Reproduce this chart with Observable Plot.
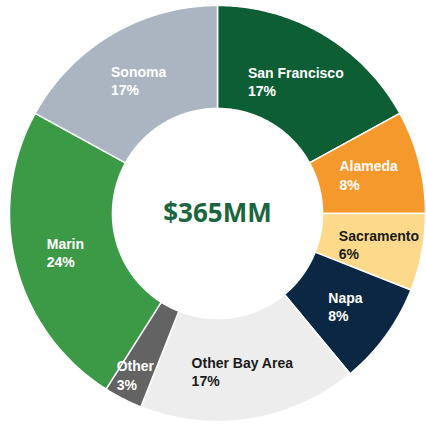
<!DOCTYPE html>
<html>
<head>
<meta charset="utf-8">
<script src="https://cdn.jsdelivr.net/npm/d3@7"></script>
<script src="https://cdn.jsdelivr.net/npm/@observablehq/plot@0.6"></script>
<style>
  html, body { margin: 0; padding: 0; background: #ffffff; }
  #chart svg { display: block; }
</style>
</head>
<body>
<div id="chart"></div>
<script>
// ---- data ----
const categories = ["San Francisco", "Alameda", "Sacramento", "Napa", "Other Bay Area", "Other", "Marin", "Sonoma"];
const shares = [17, 8, 6, 8, 17, 3, 24, 17];
const totalLabel = "$365MM";

// ---- styles / layout ----
const palette = ["#0d5e34", "#f6992c", "#fdd98b", "#0c2744", "#ededed", "#636363", "#3c9a47", "#aab5c1"];
const darkLabel = ["Sacramento", "Other Bay Area"];
const labelRadius = [0.74, 0.75, 0.79, 0.76, 0.77, 0.87, 0.755, 0.745];
const W = 426, H = 424, CX = 217, CY = 213, R = 208, INNER = 0.505;
const labelFont = "bold 14px 'Liberation Sans', Arial, sans-serif";

// ---- derived geometry ----
const arcs = d3.pie().sort(null).value(d => d)(shares);
const points = [];
arcs.forEach((a, i) => {
  const n = Math.max(2, Math.ceil((a.endAngle - a.startAngle) / 0.01));
  const ring = [];
  for (let k = 0; k <= n; k++) {
    const t = a.startAngle + (a.endAngle - a.startAngle) * k / n;
    ring.push({name: categories[i], x: Math.sin(t), y: Math.cos(t)});
  }
  for (let k = n; k >= 0; k--) {
    const t = a.startAngle + (a.endAngle - a.startAngle) * k / n;
    ring.push({name: categories[i], x: INNER * Math.sin(t), y: INNER * Math.cos(t)});
  }
  ring.push(ring[0]);
  points.push(...ring);
});

const ctx = document.createElement("canvas").getContext("2d");
ctx.font = labelFont;
const labels = arcs.map((a, i) => {
  const mid = (a.startAngle + a.endAngle) / 2;
  const text = `${categories[i]}\n${shares[i]}%`;
  const w = Math.max(ctx.measureText(categories[i]).width, ctx.measureText(`${shares[i]}%`).width);
  return {
    name: categories[i],
    text,
    x: labelRadius[i] * Math.sin(mid) - (w / 2) / R,
    y: labelRadius[i] * Math.cos(mid)
  };
});

const textOpts = {
  x: "x", y: "y", text: "text", textAnchor: "start",
  fontSize: 14, fontWeight: "bold", lineHeight: 1.29,
  fontFamily: "'Liberation Sans', Arial, sans-serif"
};

const chart = Plot.plot({
  width: W, height: H,
  margin: 0,
  x: {domain: [-CX / R, (W - CX) / R], axis: null},
  y: {domain: [-(H - CY) / R, CY / R], axis: null},
  color: {domain: categories, range: palette},
  marks: [
    Plot.line(points, {x: "x", y: "y", z: "name", fill: "name", stroke: "white", strokeWidth: 1.5, strokeLinejoin: "round"}),
    Plot.text(labels.filter(d => !darkLabel.includes(d.name)), {...textOpts, fill: "white"}),
    Plot.text(labels.filter(d => darkLabel.includes(d.name)), {...textOpts, fill: "#1a1a1a"}),
    Plot.text([totalLabel], {x: () => 0, y: () => 0, text: d => d, fontSize: 26, fontWeight: "bold", fill: "#1b6641", fontFamily: "'Open Sans', sans-serif"})
  ]
});
document.getElementById("chart").appendChild(chart);
</script>
</body>
</html>
